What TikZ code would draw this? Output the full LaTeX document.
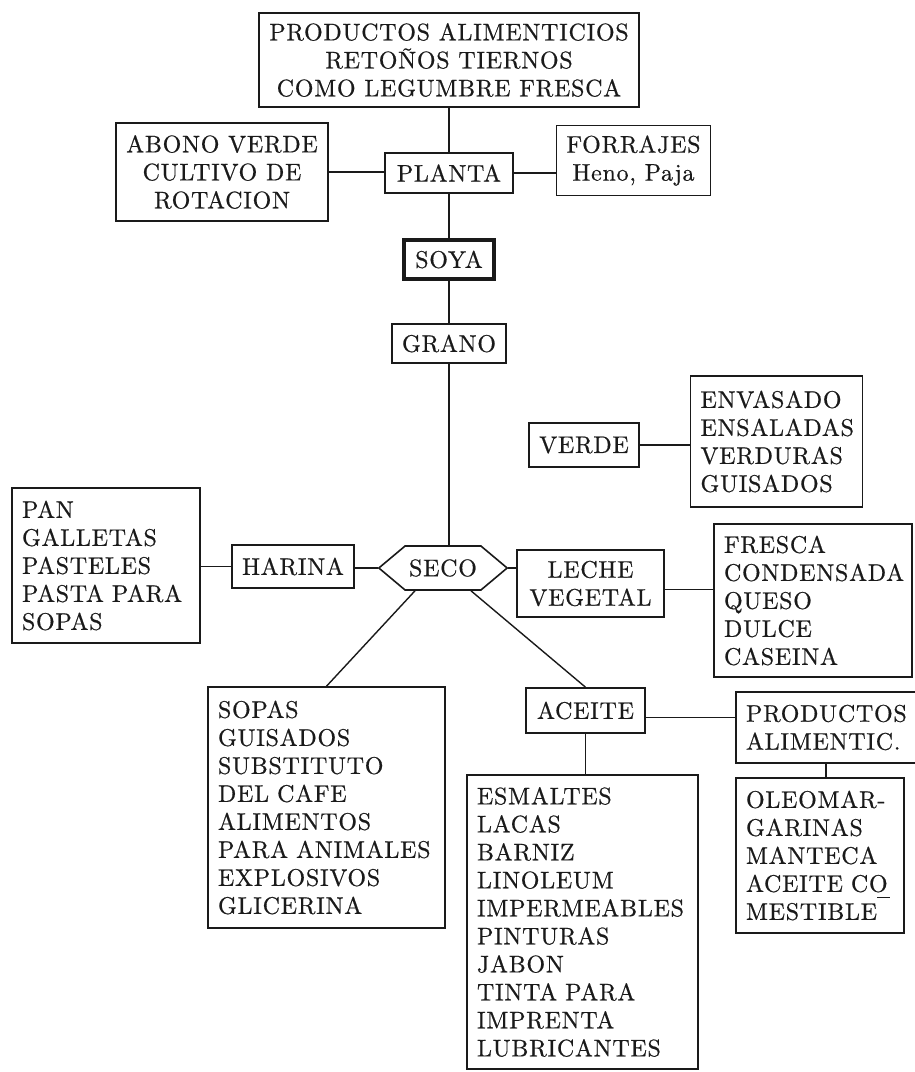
\documentclass[tikz,border=0pt]{standalone}
\usepackage{xcolor}
\usepackage{fontspec}
\setmainfont{lmroman10-regular.otf}[LetterSpace=3, FakeBold=0.6]
\usepackage{tikz}
\usetikzlibrary{positioning,shapes.symbols}
\definecolor{ink}{HTML}{1A1A1A}
\hyphenpenalty=10000

\begin{document}
\begin{tikzpicture}[
  x=0.5pt, y=-0.5pt,
  usebox/.style  = {draw=ink, line width=0.8pt, inner sep=5pt, align=center, text=ink,
                  font=\fontsize{12}{14}\selectfont},
  listbox/.style = {usebox, align=left, text width=#1},
  cropbox/.style = {usebox, line width=1.7pt},
  hexbox/.style  = {usebox, signal, signal to=west and east, signal pointer angle=80,
                  inner sep=2pt},
  link/.style  = {draw=ink, line width=0.7pt},
]
\useasboundingbox (0,0) rectangle (915,1072);

\node[usebox, minimum width=187.5pt, minimum height=47pt] (uses) at (449,60)
  {PRODUCTOS ALIMENTICIOS\\ RETOÑOS TIERNOS\\ COMO LEGUMBRE FRESCA};
\node[usebox, minimum width=64pt, minimum height=20pt] (planta) at (449,173) {PLANTA};
\node[usebox, minimum width=104pt, minimum height=49pt] (abono) at (222,172)
  {ABONO VERDE\\ CULTIVO DE\\ ROTACION};
\node[usebox, minimum width=76.5pt, minimum height=33.5pt] (forrajes) at (633.5,160.5)
  {FORRAJES\\ Heno, Paja};
\node[cropbox, minimum width=45pt, minimum height=19.5pt] (soya) at (449,259.5) {SOYA};
\node[usebox, minimum width=55pt, minimum height=19.5pt] (grano) at (449,343.5) {GRANO};

\node[hexbox, minimum width=55pt, minimum height=22pt] (seco) at (443,568) {SECO};
\node[usebox, minimum width=54pt, minimum height=22pt] (verde) at (584,445) {VERDE};
\node[listbox=76pt, minimum height=65.5pt] (envasado) at (776.5,441.5)
  {ENVASADO\\ ENSALADAS\\ VERDURAS\\ GUISADOS};
\node[usebox, minimum width=60pt, minimum height=21.5pt] (harina) at (293,566.5) {HARINA};
\node[listbox=84pt, minimum height=77.5pt] (pan) at (106,565.5)
  {PAN\\ GALLETAS\\ PASTELES\\ PASTA PARA\\ SOPAS};
\node[usebox, minimum width=73.5pt, minimum height=33.5pt] (leche) at (590.5,583.5)
  {LECHE\\ VEGETAL};
\node[listbox=89pt, minimum height=76.5pt] (fresca) at (813,600.5)
  {FRESCA\\ CONDENSADA\\ QUESO\\ DULCE\\ CASEINA};

\node[listbox=108.5pt, minimum height=120.5pt] (sopas) at (326.5,807.5)
  {SOPAS\\ GUISADOS\\ SUBSTITUTO\\ DEL CAFE\\ ALIMENTOS\\ PARA ANIMALES\\ EXPLOSIVOS\\ GLICERINA};
\node[usebox, minimum width=59.5pt, minimum height=22.5pt] (aceite) at (585.5,710.5) {ACEITE};
\node[listbox=105.5pt, minimum height=147pt] (esmaltes) at (582.5,922)
  {ESMALTES\\ LACAS\\ BARNIZ\\ LINOLEUM\\ IMPERMEABLES\\ PINTURAS\\ JABON\\ TINTA PARA\\ IMPRENTA\\ LUBRICANTES};
\node[listbox=80pt, minimum height=35.5pt] (productos) at (826,727.5)
  {PRODUCTOS\\ ALIMENTIC.};
\node[listbox=74pt, minimum height=77.5pt] (oleomar) at (820,855.5)
  {OLEOMAR-\\ GARINAS\\ MANTECA\\ ACEITE CO\\ MESTIBLE\rlap{\raisebox{2.1ex}{\rule{0.55em}{0.6pt}}}};

\coordinate (seco sw) at ([xshift=-14pt]seco.south);
\coordinate (seco se) at ([xshift=14pt]seco.south);

\draw[link] (uses.south) -- (planta.north);
\draw[link] (abono.east) -- (abono.east -| planta.west);
\draw[link] (planta.east) -- (planta.east -| forrajes.west);
\draw[link] (planta.south) -- (soya.north);
\draw[link] (soya.south) -- (grano.north);
\draw[link] (grano.south) -- (grano.south |- seco.north);
\draw[link] (verde.east) -- (verde.east -| envasado.west);
\draw[link] (harina.west) -- (harina.west -| pan.east);
\draw[link] (seco.west) -- (seco.west -| harina.east);
\draw[link] (seco.east) -- (seco.east -| leche.west);
\draw[link] ([yshift=-3pt]leche.east) -- ([yshift=-3pt]leche.east -| fresca.west);
\draw[link] (seco sw) -- (sopas.north);
\draw[link] (seco se) -- (aceite.north);
\draw[link] ([yshift=-3.5pt]aceite.east) -- ([yshift=-3.5pt]aceite.east -| productos.west);
\draw[link] (aceite.south) -- (aceite.south |- esmaltes.north);
\draw[link] (productos.south) -- (productos.south |- oleomar.north);

\end{tikzpicture}
\end{document}
